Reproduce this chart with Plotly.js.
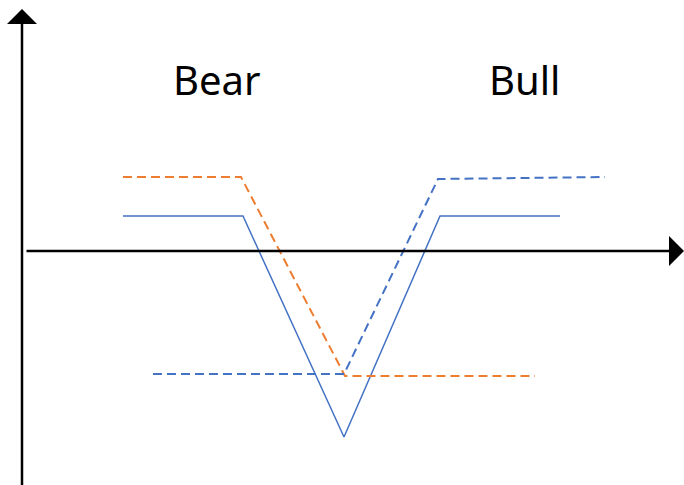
<!DOCTYPE html>
<html><head><meta charset="utf-8">
<script src="https://cdn.plot.ly/plotly-3.0.1.min.js"></script>
<style>html,body{margin:0;padding:0;background:#fff}</style>
</head><body><div id="chart" style="width:684px;height:485px"></div>
<script>
// Payoff diagram coordinates (origin at axis crossing)
const solidX = [101, 221, 322, 418, 538];
const solidY = [35, 35, -186, 35, 35];
const bearDashX = [101, 219, 323, 513];
const bearDashY = [74, 74, -125, -125];
const bullDashX = [131, 322, 416, 583];
const bullDashY = [-123, -123, 72, 74];
const labels = ["Bear", "Bull"];
const labelX = [195, 502.5];
const labelY = [172, 172];

const blue = '#4472C4', orange = '#ED7D31';
const traces = [
  {x: solidX, y: solidY, mode: 'lines', line: {color: blue, width: 1.5}, hoverinfo: 'skip'},
  {x: bearDashX, y: bearDashY, mode: 'lines', line: {color: orange, width: 2, dash: '9px,5px'}, hoverinfo: 'skip'},
  {x: bullDashX, y: bullDashY, mode: 'lines', line: {color: blue, width: 2, dash: '9px,5px'}, hoverinfo: 'skip'}
];
const ann = labels.map((t, i) => ({x: labelX[i], y: labelY[i], text: t, showarrow: false,
  font: {family: 'Noto Sans, sans-serif', size: 40, color: '#000'}}));
ann.push({x: 662, y: 0, ax: 3, ay: 0, axref: 'x', ayref: 'y', xref: 'x', yref: 'y', text: '',
  showarrow: true, arrowhead: 1, arrowsize: 2, arrowwidth: 2.5, arrowcolor: '#000'});
ann.push({x: 0, y: 242, ax: 0, ay: -240, axref: 'x', ayref: 'y', xref: 'x', yref: 'y', text: '',
  showarrow: true, arrowhead: 1, arrowsize: 2, arrowwidth: 2.5, arrowcolor: '#000'});
Plotly.newPlot('chart', traces, {
  width: 684, height: 485, margin: {l: 0, r: 0, t: 0, b: 0},
  paper_bgcolor: '#fff', plot_bgcolor: '#fff', showlegend: false,
  xaxis: {range: [-22, 662], visible: false, fixedrange: true},
  yaxis: {range: [-234, 251], visible: false, fixedrange: true},
  annotations: ann
}, {staticPlot: true});
</script></body></html>
